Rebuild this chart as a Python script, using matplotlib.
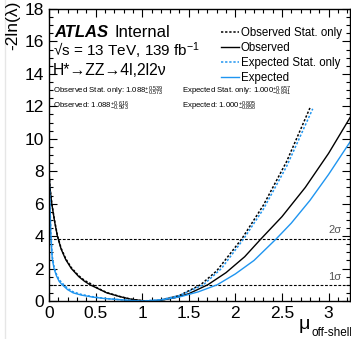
import matplotlib
matplotlib.use('Agg')
import matplotlib.pyplot as plt
from matplotlib.ticker import MultipleLocator
from matplotlib.lines import Line2D
import numpy as np

plt.rcParams['font.family'] = ['Liberation Sans', 'DejaVu Sans']
plt.rcParams['mathtext.fontset'] = 'custom'
plt.rcParams['mathtext.rm'] = 'Liberation Sans'
plt.rcParams['mathtext.it'] = 'Liberation Sans:italic'
plt.rcParams['mathtext.bf'] = 'Liberation Sans:bold'

#~~~~~~~~~~~~~~~~~~~~~~~~~~~~~~~~~~~~~~~~~~~~~~~~~~~~~~
######## Data ########
#~~~~~~~~~~~~~~~~~~~~~~~~~~~~~~~~~~~~~~~~~~~~~~~~~~~~~~
mu_obs = [0, 0.01, 0.03, 0.06, 0.09, 0.13, 0.18, 0.24, 0.32, 0.38, 0.44, 0.52,
          0.62, 0.76, 0.88, 1.0, 1.088, 1.2, 1.35, 1.5, 1.704, 1.9, 2.1, 2.27,
          2.5, 2.75, 3.0, 3.23]
nll_obs = [8.0, 7.0, 6.0, 4.9, 4.0, 3.2, 2.55, 2.0, 1.5, 1.22, 1.0, 0.78,
           0.5, 0.27, 0.11, 0.02, 0.0, 0.04, 0.2, 0.45, 1.0, 1.75, 2.73, 3.8,
           5.2, 7.0, 9.1, 11.3]

mu_obs_stat = [0, 0.01, 0.03, 0.06, 0.09, 0.13, 0.18, 0.24, 0.32, 0.38, 0.46,
               0.52, 0.62, 0.76, 0.88, 1.0, 1.088, 1.2, 1.4, 1.627, 1.8, 2.07,
               2.3, 2.55, 2.8]
nll_obs_stat = [8.0, 7.0, 6.0, 4.95, 4.05, 3.25, 2.6, 2.05, 1.55, 1.27, 1.03,
                0.8, 0.52, 0.28, 0.11, 0.02, 0.0, 0.045, 0.34, 1.0, 1.86, 3.84,
                5.9, 8.6, 11.9]

mu_exp = [0, 0.005, 0.01, 0.02, 0.035, 0.054, 0.08, 0.11, 0.142, 0.2, 0.26,
          0.35, 0.47, 0.6, 0.76, 0.88, 1.0, 1.2, 1.4, 1.6, 1.805, 2.0, 2.2,
          2.44, 2.6, 2.8, 3.0, 3.23]
nll_exp = [7.8, 6.8, 6.0, 4.0, 2.6, 2.0, 1.55, 1.2, 1.0, 0.7, 0.5,
           0.36, 0.24, 0.15, 0.08, 0.03, 0.0, 0.06, 0.25, 0.56, 1.0, 1.67, 2.5,
           3.84, 4.8, 6.2, 7.8, 9.8]

mu_exp_stat = [0, 0.005, 0.01, 0.02, 0.035, 0.054, 0.08, 0.11, 0.159, 0.2,
               0.26, 0.35, 0.47, 0.6, 0.76, 0.88, 1.0, 1.2, 1.4, 1.657, 1.85,
               2.09, 2.3, 2.55, 2.83]
nll_exp_stat = [7.8, 6.9, 6.1, 4.2, 2.75, 2.1, 1.65, 1.3, 1.0, 0.78, 0.56,
                0.4, 0.26, 0.16, 0.08, 0.03, 0.0, 0.08, 0.34, 1.0, 2.0,
                3.84, 5.66, 8.3, 11.85]

sigma_levels = [1.0, 3.84]
sigma_names = ['1σ', '2σ']

results = [('Observed Stat. only: 1.088$^{+0.539}_{-0.573}$', 53, 93),
           ('Observed: 1.088$^{+0.616}_{-0.593}$', 53, 108),
           ('Expected Stat. only: 1.000$^{+0.657}_{-0.841}$', 182, 93),
           ('Expected: 1.000$^{+0.805}_{-0.858}$', 182, 108)]

blue = '#1f95f0'
W, H = 351, 339

#~~~~~~~~~~~~~~~~~~~~~~~~~~~~~~~~~~~~~~~~~~~~~~~~~~~~~~
######## Plotting ########
#~~~~~~~~~~~~~~~~~~~~~~~~~~~~~~~~~~~~~~~~~~~~~~~~~~~~~~
fig = plt.figure(figsize=[W/100, H/100], dpi=100)
ax = fig.add_axes([49/W, 1-301/H, 301/W, 292/H])

# faint border of the original canvas
fig.add_artist(Line2D([5/W, 5/W], [0, 1], color='#e6e6e6', lw=1.0))

for lev in sigma_levels:
    ax.axhline(lev, color='k', lw=0.8, ls=(0, (2.5, 1.5)))

ax.plot(mu_obs_stat, nll_obs_stat, color='k', lw=1.1, ls=(0, (1.5, 1.2)),
        label='Observed Stat. only')
ax.plot(mu_obs, nll_obs, color='k', lw=1.0, label='Observed')
ax.plot(mu_exp_stat, nll_exp_stat, color=blue, lw=1.1, ls=(0, (1.5, 1.2)),
        label='Expected Stat. only')
ax.plot(mu_exp, nll_exp, color=blue, lw=1.0, label='Expected')

ax.set_xlim(0, 3.23)
ax.set_ylim(0, 18)
ax.xaxis.set_major_locator(MultipleLocator(0.5))
ax.xaxis.set_minor_locator(MultipleLocator(0.1))
ax.yaxis.set_major_locator(MultipleLocator(2))
ax.yaxis.set_minor_locator(MultipleLocator(0.5))
ax.xaxis.set_major_formatter(plt.FuncFormatter(lambda v, p: '%g' % v))
ax.tick_params(which='both', direction='in', top=True, right=True,
               labelsize=12.5, width=0.8)
ax.tick_params(which='major', length=6)
ax.tick_params(which='minor', length=3)
for s in ax.spines.values():
    s.set_linewidth(1.0)

# axis titles, ROOT style (top / right aligned)
fig.text(13/W, 1-1/H, '-2ln(λ)', rotation=90, fontsize=12.5,
         ha='center', va='top')
fig.text(299/W, 1-329/H, 'μ', fontsize=14, ha='left', va='baseline')
fig.text(311/W, 1-336/H, 'off-shell', fontsize=8.5, ha='left',
         va='baseline')

for name, lev in zip(sigma_names, sigma_levels):
    ax.text(3.07, lev + 0.2, name, color='#555555', fontsize=8, ha='center',
            va='bottom')

fig.text(54/W, 1-37/H, 'ATLAS', fontsize=12, fontweight='bold',
         fontstyle='italic', va='baseline')
fig.text(115/W, 1-37/H, 'Internal', fontsize=12, va='baseline')
fig.text(53/W, 1-56/H, '√s = 13 TeV, 139 fb$^{-1}$', fontsize=11,
         va='baseline')
fig.text(53/W, 1-75/H, 'H*→ZZ→4l,2l2ν', fontsize=11.3, va='baseline')
for txt, x, y in results:
    fig.text(x/W, 1-y/H, txt, fontsize=5.6, va='baseline')

leg = ax.legend(loc='upper right', bbox_to_anchor=(1.0, 0.965), frameon=False,
                fontsize=8.3, handlelength=1.5, handletextpad=0.2,
                labelspacing=0.25, borderaxespad=0.3)

plt.savefig('out.png', dpi=100)
